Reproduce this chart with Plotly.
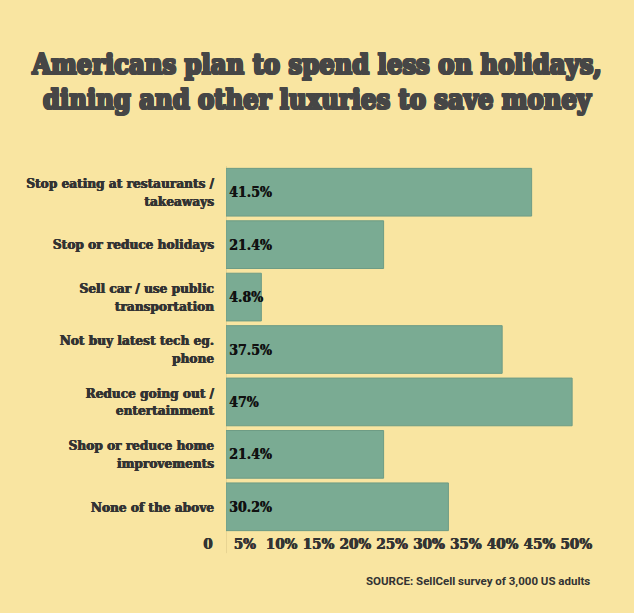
import plotly.graph_objects as go

categories = [
    "Stop eating at restaurants /<br>takeaways",
    "Stop or reduce holidays",
    "Sell car / use public<br>transportation",
    "Not buy latest tech eg.<br>phone",
    "Reduce going out /<br>entertainment",
    "Shop or reduce home<br>improvements",
    "None of the above",
]
values = [41.5, 21.4, 4.8, 37.5, 47, 21.4, 30.2]
value_labels = ["41.5%", "21.4%", "4.8%", "37.5%", "47%", "21.4%", "30.2%"]
tick_vals = [0, 5, 10, 15, 20, 25, 30, 35, 40, 45, 50]
tick_text = ["0", "5%", "10%", "15%", "20%", "25%", "30%", "35%", "40%", "45%", "50%"]

BG = "#F9E5A1"
BAR = "#7AAB93"
SLAB = "DejaVu Serif Condensed"
TITLE_C = "#464646"
thick = ", ".join(f"{dx}px {dy}px 0 {TITLE_C}" for dx, dy in
                  [(1, 0), (-1, 0), (0, 1), (0, -1), (1, 1), (-1, -1), (1, -1), (-1, 1)])
thin = "0.5px 0 0 #333333, -0.3px 0 0 #333333"

fig = go.Figure(go.Bar(
    x=values,
    y=categories,
    orientation="h",
    marker=dict(color=BAR, line=dict(color="#6E9C85", width=1)),
    text=value_labels,
    textposition="inside",
    insidetextanchor="start",
    textangle=0,
    constraintext="none",
    textfont=dict(family=SLAB, size=14, color="#111111", weight="bold", shadow="0.5px 0 0 #111111"),
    cliponaxis=False,
    hoverinfo="skip",
))

fig.update_layout(
    width=634,
    height=613,
    paper_bgcolor=BG,
    plot_bgcolor=BG,
    margin=dict(l=226, r=14, t=166, b=80),
    bargap=0.09,
    showlegend=False,
    title=dict(
        text="Americans plan to spend less on holidays,<br>dining and other luxuries to save money",
        x=0.5, xref="container", xanchor="center",
        y=1 - 74 / 613, yref="container", yanchor="middle",
        font=dict(family=SLAB, size=27, color=TITLE_C, weight="bold", shadow=thick),
    ),
    xaxis=dict(
        range=[0, 53.5],
        tickvals=tick_vals,
        ticktext=tick_text,
        showgrid=False,
        zeroline=False,
        showline=False,
        ticks="",
        ticklabelshift=-18,
        ticklabelstandoff=0,
        tickfont=dict(family=SLAB, size=15, color="#333333", weight="bold", shadow=thin),
        fixedrange=True,
    ),
    yaxis=dict(
        autorange="reversed",
        showgrid=False,
        zeroline=False,
        showline=False,
        ticks="",
        ticklabelstandoff=11,
        tickfont=dict(family=SLAB, size=13.5, color="#333333", weight="bold", shadow=thin),
        fixedrange=True,
    ),
    shapes=[dict(
        type="line", xref="x", yref="paper",
        x0=0, x1=0, y0=-0.055, y1=1.0,
        line=dict(color="#D8C486", width=1),
        layer="below",
    )],
    annotations=[dict(
        text="SOURCE: SellCell survey of 3,000 US adults",
        xref="paper", yref="paper", x=0.929, y=-0.13,
        xanchor="right", yanchor="middle", showarrow=False,
        font=dict(family="Roboto", size=11.5, color="#333333", weight="bold"),
    )],
)

fig.write_html("out.html")
